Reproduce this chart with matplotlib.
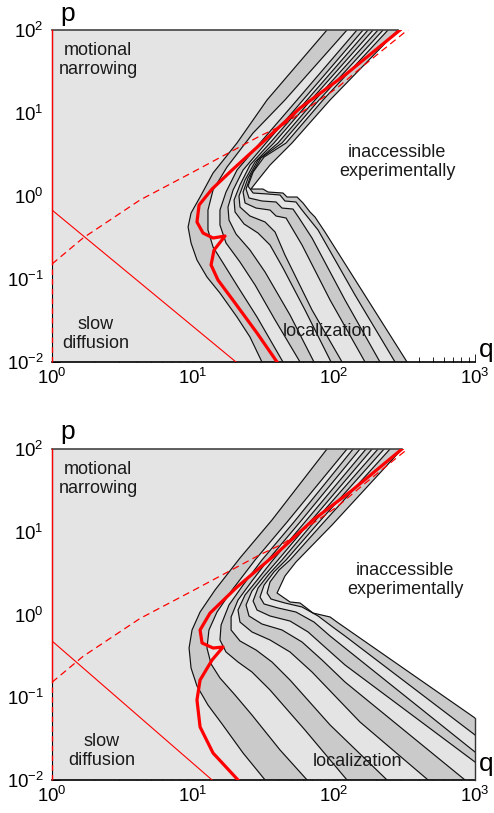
import numpy as np
import matplotlib
matplotlib.use("Agg")
import matplotlib.pyplot as plt

plt.rcParams['font.family'] = ['Liberation Sans', 'DejaVu Sans']
plt.rcParams['mathtext.fontset'] = 'custom'
plt.rcParams['mathtext.rm'] = 'Liberation Sans'
plt.rcParams['mathtext.it'] = 'Liberation Sans:italic'

# ---------------- data: (log10 q, log10 p) points ----------------
top_c1 = [(1.950, 2.000), (1.525, 1.157), (1.312, 0.639), (1.142, 0.277), (1.050, -0.012), (0.986, -0.205),
          (0.965, -0.373), (0.986, -0.566), (1.028, -0.771), (1.099, -0.976), (1.191, -1.169), (1.312, -1.458),
          (1.404, -1.699), (1.489, -2.000)]
top_c2 = [(2.092, 2.000), (1.652, 1.157), (1.426, 0.759), (1.241, 0.349), (1.142, 0.072), (1.106, -0.169),
          (1.106, -0.410), (1.142, -0.614), (1.213, -0.807), (1.319, -1.096), (1.454, -1.458), (1.638, -2.000)]
top_c3 = [(2.163, 2.000), (1.738, 1.157), (1.475, 0.639), (1.312, 0.313), (1.234, 0.048), (1.191, -0.169),
          (1.191, -0.349), (1.234, -0.566), (1.333, -0.795), (1.440, -1.072), (1.582, -1.494), (1.759, -2.000)]
top_c4 = [(2.206, 2.000), (1.780, 1.157), (1.518, 0.639), (1.355, 0.313), (1.284, 0.072), (1.248, -0.133),
          (1.255, -0.289), (1.305, -0.458), (1.404, -0.651), (1.511, -0.916), (1.688, -1.434), (1.858, -2.000)]
top_c5 = [(2.241, 2.000), (1.809, 1.157), (1.546, 0.639), (1.404, 0.373), (1.333, 0.133), (1.291, -0.048),
          (1.298, -0.193), (1.362, -0.337), (1.461, -0.446), (1.546, -0.590), (1.638, -0.867), (1.794, -1.373),
          (1.979, -2.000)]
top_c6 = [(2.277, 2.000), (1.837, 1.157), (1.574, 0.639), (1.440, 0.410), (1.369, 0.193), (1.326, 0.000),
          (1.333, -0.133), (1.404, -0.241), (1.511, -0.313), (1.582, -0.434), (1.652, -0.711), (1.844, -1.373),
          (2.057, -2.000)]
top_c7 = [(2.312, 2.000), (1.865, 1.157), (1.603, 0.639), (1.461, 0.434), (1.390, 0.217), (1.355, 0.048),
          (1.369, -0.084), (1.447, -0.145), (1.546, -0.169), (1.589, -0.241), (1.660, -0.265), (1.702, -0.386),
          (1.773, -0.590), (1.972, -1.253), (2.220, -2.000)]
top_c8 = [(2.348, 2.000), (1.894, 1.157), (1.631, 0.639), (1.482, 0.458), (1.411, 0.253), (1.376, 0.084),
          (1.397, -0.024), (1.489, -0.060), (1.589, -0.072), (1.631, -0.145), (1.709, -0.157), (1.752, -0.265),
          (1.844, -0.506), (2.078, -1.253), (2.326, -2.000)]
top_c9 = [(2.383, 2.000), (1.922, 1.157), (1.660, 0.639), (1.504, 0.470), (1.426, 0.289), (1.390, 0.120),
          (1.426, 0.036), (1.532, 0.024), (1.617, 0.012), (1.652, -0.060), (1.730, -0.072), (1.773, -0.169),
          (1.887, -0.410), (2.149, -1.193), (2.433, -2.000)]
top_c10 = [(2.454, 2.000), (1.972, 1.157), (1.702, 0.639), (1.546, 0.373), (1.461, 0.193), (1.411, 0.084),
           (1.496, 0.084), (1.532, 0.048), (1.638, 0.036), (1.667, -0.012), (1.738, -0.012), (1.780, -0.084),
           (1.830, -0.193), (1.865, -0.253), (1.936, -0.434), (2.518, -2.000)]

top_red = [(2.468, 2.000), (2.078, 1.458), (1.759, 1.060), (1.511, 0.675), (1.277, 0.313), (1.135, 0.084),
           (1.043, -0.108), (1.028, -0.313), (1.071, -0.446), (1.142, -0.506), (1.227, -0.482), (1.149, -0.651),
           (1.128, -0.831), (1.177, -1.012), (1.298, -1.289), (1.454, -1.651), (1.596, -2.000)]
top_thin = [(0.0, -0.169), (1.305, -2.000)]

bot_c1 = [(1.950, 2.000), (1.560, 1.142), (1.333, 0.683), (1.156, 0.296), (1.050, 0.030), (0.993, -0.187),
          (0.972, -0.405), (0.986, -0.647), (1.028, -0.864), (1.106, -1.094), (1.206, -1.323), (1.355, -1.674),
          (1.511, -2.000)]
bot_c2 = [(2.092, 2.000), (1.667, 1.118), (1.440, 0.659), (1.277, 0.296), (1.170, 0.030), (1.113, -0.187),
          (1.099, -0.405), (1.128, -0.598), (1.191, -0.767), (1.298, -0.973), (1.418, -1.215), (1.617, -1.637),
          (1.809, -2.000)]
bot_c3 = [(2.135, 2.000), (1.716, 1.118), (1.489, 0.659), (1.355, 0.356), (1.255, 0.115), (1.199, -0.127),
          (1.191, -0.308), (1.234, -0.453), (1.319, -0.574), (1.418, -0.695), (1.546, -0.912), (1.794, -1.396),
          (2.092, -2.000)]
bot_c4 = [(2.184, 2.000), (1.759, 1.118), (1.532, 0.659), (1.418, 0.405), (1.319, 0.175), (1.270, -0.030),
          (1.270, -0.187), (1.333, -0.320), (1.447, -0.429), (1.560, -0.574), (1.688, -0.792), (1.972, -1.335),
          (2.376, -2.000)]
bot_c5 = [(2.227, 2.000), (1.794, 1.118), (1.567, 0.659), (1.461, 0.429), (1.369, 0.236), (1.319, 0.054),
          (1.333, -0.091), (1.418, -0.211), (1.546, -0.308), (1.688, -0.453), (1.844, -0.695), (2.184, -1.299),
          (2.667, -2.000)]
bot_c6 = [(2.270, 2.000), (1.830, 1.118), (1.603, 0.659), (1.504, 0.465), (1.418, 0.284), (1.376, 0.115),
          (1.397, -0.018), (1.489, -0.115), (1.631, -0.187), (1.773, -0.332), (1.915, -0.550), (2.078, -0.816),
          (2.929, -2.000)]
bot_c7 = [(2.312, 2.000), (1.858, 1.118), (1.631, 0.659), (1.539, 0.489), (1.461, 0.320), (1.426, 0.163),
          (1.454, 0.054), (1.546, -0.018), (1.688, -0.079), (1.816, -0.211), (1.943, -0.405), (2.078, -0.610),
          (3.000, -1.783)]
bot_c8 = [(2.355, 2.000), (1.894, 1.118), (1.660, 0.659), (1.574, 0.514), (1.504, 0.356), (1.475, 0.211),
          (1.504, 0.127), (1.603, 0.079), (1.730, 0.030), (1.858, -0.091), (1.972, -0.260), (2.078, -0.405),
          (3.000, -1.662)]
bot_c9 = [(2.397, 2.000), (1.929, 1.118), (1.688, 0.659), (1.610, 0.538), (1.546, 0.393), (1.525, 0.260),
          (1.553, 0.187), (1.652, 0.139), (1.773, 0.091), (1.887, -0.018), (2.000, -0.163), (2.078, -0.260),
          (3.000, -1.456)]
bot_c10 = [(2.482, 2.000), (1.986, 1.082), (1.730, 0.634), (1.652, 0.465), (1.596, 0.260), (1.688, 0.151),
           (1.759, 0.139), (1.851, 0.018), (1.972, -0.030), (2.021, -0.091), (3.000, -1.251)]

bot_red = [(2.482, 2.000), (2.113, 1.480), (1.851, 1.142), (1.596, 0.743), (1.312, 0.332), (1.121, 0.018),
           (1.050, -0.187), (1.064, -0.344), (1.142, -0.405), (1.213, -0.393), (1.135, -0.550), (1.050, -0.792),
           (1.028, -1.033), (1.050, -1.359), (1.142, -1.674), (1.319, -2.000)]
bot_thin = [(0.0, -0.320), (1.135, -2.000)]

dashed_red = [(0.0, -0.819), (0.220, -0.506), (0.624, -0.048), (1.000, 0.289), (1.475, 0.723),
              (1.638, 0.855), (2.021, 1.301), (2.206, 1.566), (2.504, 1.976), (2.530, 2.010)]

top_contours = [top_c1, top_c2, top_c3, top_c4, top_c5, top_c6, top_c7, top_c8, top_c9, top_c10]
bot_contours = [bot_c1, bot_c2, bot_c3, bot_c4, bot_c5, bot_c6, bot_c7, bot_c8, bot_c9, bot_c10]

LIGHT = '#e4e4e4'
DARK = '#cacaca'
RED = '#ff0000'


def qp(pts):
    a = np.array(pts, dtype=float)
    return 10 ** a[:, 0], 10 ** a[:, 1]


def panel(ax, contours, red, thin, labels):
    ax.set_xscale('log')
    ax.set_yscale('log')
    ax.set_xlim(1, 1000)
    ax.set_ylim(0.01, 100)
    ax.set_axisbelow(True)
    n = len(contours)
    for k in range(n - 1, -1, -1):
        q, p = qp(contours[k])
        q = list(q); p = list(p)
        if q[-1] > 999 and p[-1] > 0.0101:
            q.append(1000.0); p.append(0.01)
        q += [1.0, 1.0]
        p += [0.01, 100.0]
        ax.fill(q, p, color=DARK if (k + 1) % 2 == 0 else LIGHT, lw=0, zorder=1)
    for c in contours:
        q, p = qp(c)
        ax.plot(q, p, color='#111111', lw=0.85, zorder=3, solid_joinstyle='round')
    qt, pt = qp(contours[-1])
    ax.plot([1, qt[0]], [100, 100], color='#444444', lw=1.2, zorder=3, clip_on=False)
    if qt[-1] > 999 and pt[-1] > 0.0101:
        ax.plot([1000, 1000], [0.01, pt[-1]], color='#333333', lw=1.0, zorder=3, clip_on=False)
    q, p = qp(thin)
    ax.plot(q, p, color=RED, lw=0.8, zorder=4)
    q, p = qp(dashed_red)
    ax.plot(q, p, color=RED, lw=0.9, dashes=(5.5, 3.5), zorder=4)
    q, p = qp(red)
    ax.plot(q, p, color=RED, lw=2.3, zorder=5, solid_joinstyle='round')
    p0 = 10 ** dashed_red[0][1]
    ax.plot([1, 1], [p0, 100], color=RED, lw=1.0, zorder=6, clip_on=False)
    ax.plot([1, 1], [0.01, p0], color=RED, lw=1.0, dashes=(4, 3), zorder=6, clip_on=False)

    for s in ('top', 'right'):
        ax.spines[s].set_visible(False)
    ax.spines['left'].set_color('black')
    ax.spines['bottom'].set_color('black')
    ax.spines['bottom'].set_linewidth(1.2)
    ax.tick_params(which='both', direction='in', top=False, right=False)
    ax.tick_params(which='major', length=6, width=0.6, labelsize=13.4)
    ax.tick_params(which='minor', length=3.5, width=0.6)
    ax.tick_params(axis='y', which='major', pad=6)
    ax.tick_params(axis='x', which='major', pad=4)
    ax.set_xticks([1, 10, 100, 1000])
    ax.set_yticks([0.01, 0.1, 1, 10, 100])

    for (txt, fx, fy) in labels:
        ax.text(fx, fy, txt, transform=ax.transAxes, ha='center', va='center',
                fontsize=13, color='#1a1a1a', linespacing=1.15, zorder=7)


fig = plt.figure(figsize=(4.94, 8.13), dpi=100)
ax1 = fig.add_axes([0.1053, 0.5547, 0.8563, 0.4084])
ax2 = fig.add_axes([0.1053, 0.0406, 0.8563, 0.4071])

panel(ax1, top_contours, top_red, top_thin,
      [('motional\nnarrowing', 0.109, 0.910), ('inaccessible\nexperimentally', 0.816, 0.602),
       ('slow\ndiffusion', 0.104, 0.084), ('localization', 0.652, 0.093)])
panel(ax2, bot_contours, bot_red, bot_thin,
      [('motional\nnarrowing', 0.109, 0.909), ('inaccessible\nexperimentally', 0.835, 0.604),
       ('slow\ndiffusion', 0.118, 0.088), ('localization', 0.721, 0.057)])

ax1.text(0.019, 1.0256, 'p', transform=ax1.transAxes, fontsize=19, va='baseline', ha='left')
ax2.text(0.019, 1.0317, 'p', transform=ax2.transAxes, fontsize=19, va='baseline', ha='left')
ax1.text(1.0095, 0.0166, 'q', transform=ax1.transAxes, fontsize=19, va='baseline', ha='left')
ax2.text(1.0095, 0.0257, 'q', transform=ax2.transAxes, fontsize=19, va='baseline', ha='left')

fig.savefig('out.png', dpi=100)
